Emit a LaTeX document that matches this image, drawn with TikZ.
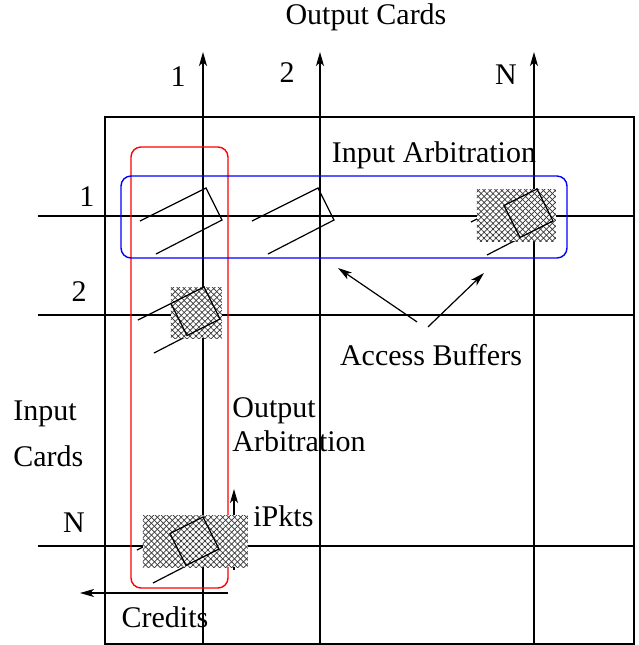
\documentclass[tikz,border=0pt]{standalone}
\usepackage{fontspec}
\setmainfont{Liberation Serif}
\usetikzlibrary{arrows.meta, patterns.meta}

\begin{document}
\begin{tikzpicture}[
  x=0.5pt, y=-0.5pt,
  font=\fontsize{15}{18}\selectfont,
  wire/.style ={line width=0.6pt},
  arr/.style  ={-{Stealth[length=7pt, width=4pt, inset=1.8pt]}, line width=0.6pt},
  arb/.style  ={draw, line width=0.7pt, rounded corners=5pt},
  lbl/.style  ={inner sep=0pt},
  hatch/.style={fill=white,
                postaction={pattern={Lines[angle=45, distance=2.1pt, line width=0.35pt]},
                            pattern color=black!80},
                postaction={pattern={Lines[angle=-45,distance=2.1pt, line width=0.35pt]},
                            pattern color=black!80}},
  pics/buf/.style={code={
    \draw[wire] (-63,5) -- (3,-28) -- (19,4) -- (-47,38);
  }},
  pics/pkt/.style={code={
    \draw[wire] (3,-28) -- (19,4) -- (-14,20.5) -- (-30,-11.5) -- cycle;
  }},
]
\useasboundingbox (0,0) rectangle (639,645);

%% ---- Crossbar frame ----
\draw[wire] (105,117) rectangle (634,644);

%% ---- Output columns ----
\coordinate (c1) at (203,644);  \coordinate (c1t) at (203,52);
\coordinate (c2) at (320,644);  \coordinate (c2t) at (320,52);
\coordinate (cN) at (534,644);  \coordinate (cNt) at (534,52);
\draw[arr] (c1) -- (c1t);
\draw[arr] (c2) -- (c2t);
\draw[arr] (cN) -- (cNt);

%% ---- Input rows ----
\coordinate (r1) at (38,216);  \coordinate (r1e) at (634,216);
\coordinate (r2) at (38,315);  \coordinate (r2e) at (634,315);
\coordinate (rN) at (38,546);  \coordinate (rNe) at (634,546);
\draw[wire] (r1) -- (r1e);
\draw[wire] (r2) -- (r2e);
\draw[wire] (rN) -- (rNe);

%% ---- Arbitration domains ----
\draw[arb, red]  (131,147) rectangle (228,588);
\draw[arb, blue] (121,176) rectangle (567,258);

%% ---- Crosspoint buffers ----
\pic at (203,216) {buf};
\pic at (315,216) {buf};
\pic at (534,217) {buf};
\pic at (201,315) {buf};
\pic at (200,545) {buf};

%% ---- Flow control ----
\coordinate (pk0) at (234,570);  \coordinate (pk1) at (234,489);
\coordinate (cr0) at (228,593);  \coordinate (cr1) at (80,593);
\draw[arr] (pk0) -- (pk1);
\draw[arr] (cr0) -- (cr1);

%% ---- Occupied buffers ----
\path[hatch] (477,189) rectangle (556,241);
\path[hatch] (171,287) rectangle (222,338);
\path[hatch] (143,515) rectangle (248,567);
\pic at (534,217) {pkt};
\pic at (201,315) {pkt};
\pic at (200,545) {pkt};

%% ---- Labels ----
\node[lbl] (outc) at (366,17)  {Output Cards};
\node[lbl] (o1)   at (178,77)  {1};
\node[lbl] (o2)   at (287,73)  {2};
\node[lbl] (oN)   at (506,75)  {N};
\node[lbl] (i1)   at (87,197)  {1};
\node[lbl] (i2)   at (79,292)  {2};
\node[lbl] (iN)   at (74,523)  {N};
\node[lbl, anchor=west, align=left, font=\fontsize{15}{23}\selectfont]
      (inc) at (13,434) {Input\\Cards};
\node[lbl, anchor=west, align=left, font=\fontsize{15}{17}\selectfont]
      (oarb) at (232,425) {Output\\Arbitration};
\node[lbl] (iarb) at (434,155) {Input Arbitration};
\node[lbl] (acc)  at (431,355) {Access Buffers};
\node[lbl, anchor=west] (ipk) at (253,516) {iPkts};
\node[lbl] (cred) at (165,617) {Credits};

%% ---- Access buffer pointers ----
\coordinate (ab1) at (338,268);
\coordinate (ab2) at (484,273);
\draw[arr] ([xshift=-7pt, yshift=11pt]acc.north) -- (ab1);
\draw[arr] ([xshift=-1.5pt, yshift=8.5pt]acc.north) -- (ab2);

\end{tikzpicture}
\end{document}
